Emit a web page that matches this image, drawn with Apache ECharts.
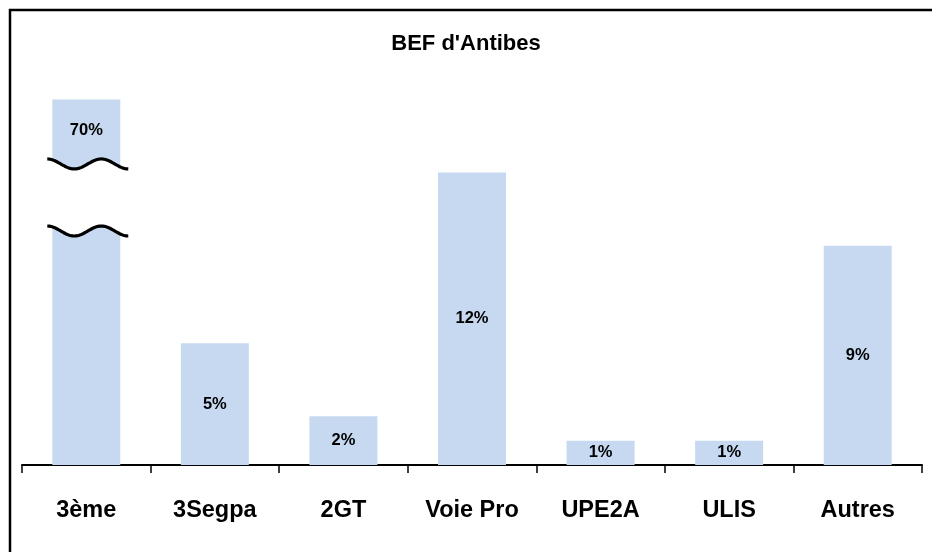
<!DOCTYPE html>
<html>
<head>
<meta charset="utf-8">
<title>BEF d'Antibes</title>
<script src="https://cdn.jsdelivr.net/npm/echarts@6/dist/echarts.min.js"></script>
<style>
  html, body { margin: 0; padding: 0; background: #fff; }
  #chart { width: 932px; height: 552px; }
</style>
</head>
<body>
<div id="chart"></div>
<script>
// catégories et parts (en %)
var categories = ['3ème', '3Segpa', '2GT', 'Voie Pro', 'UPE2A', 'ULIS', 'Autres'];
var percentages = [70, 5, 2, 12, 1, 1, 9];
// hauteur affichée de la barre coupée, et zone coupée (en %)
var axisCap = 15;
var breakRange = [9.6, 12.35];

var myChart = echarts.init(document.getElementById('chart'));

var barData = percentages.map(function (v) {
	var item = { value: Math.min(v, axisCap) };
	if (v > axisCap) {
		item.label = { position: 'insideTop', distance: 23 };
	}
	return item;
});

// trait ondulé de la coupure
function wavePoints(cx, yc) {
	var pts = [];
	for (var x = -39; x <= 42; x += 1) {
		pts.push([cx + x, yc - 5 * Math.cos(2 * Math.PI * (x + 39) / 54)]);
	}
	return pts;
}

var option = {
	animation: false,
	title: {
		text: "BEF d'Antibes",
		left: 'center',
		top: 28,
		textStyle: {
			fontFamily: 'Liberation Sans',
			fontWeight: 'bold',
			fontSize: 22,
			color: '#000'
		}
	},
	grid: {
		left: 22,
		right: 10,
		top: 75,
		bottom: 87
	},
	xAxis: {
		type: 'category',
		data: categories,
		axisLine: { lineStyle: { color: '#000', width: 2 } },
		axisTick: { show: true, length: 8, lineStyle: { color: '#000', width: 1.5 } },
		axisLabel: {
			margin: 34,
			fontFamily: 'Liberation Sans',
			fontWeight: 'bold',
			fontSize: 23.5,
			color: '#000'
		}
	},
	yAxis: {
		type: 'value',
		min: 0,
		max: 16,
		show: false,
		splitLine: { show: false }
	},
	series: [{
		type: 'bar',
		data: barData,
		barWidth: 68,
		itemStyle: { color: '#C6D9F0' },
		label: {
			show: true,
			position: 'inside',
			fontFamily: 'Liberation Sans',
			fontWeight: 'bold',
			fontSize: 16.5,
			color: '#000',
			formatter: function (p) {
				return percentages[p.dataIndex] + '%';
			}
		}
	}, {
		type: 'custom',
		z: 5,
		data: [[0, breakRange[0], breakRange[1]]],
		renderItem: function (params, api) {
			var cx = api.coord([api.value(0), 0])[0];
			var yLow = api.coord([api.value(0), api.value(1)])[1];
			var yHigh = api.coord([api.value(0), api.value(2)])[1];
			var top = wavePoints(cx, yHigh);
			var bottom = wavePoints(cx, yLow);
			var area = top.concat(bottom.slice().reverse());
			return {
				type: 'group',
				children: [{
					type: 'polygon',
					shape: { points: area },
					style: { fill: '#fff' }
				}, {
					type: 'polyline',
					shape: { points: top },
					style: { stroke: '#000', lineWidth: 3.2, fill: null }
				}, {
					type: 'polyline',
					shape: { points: bottom },
					style: { stroke: '#000', lineWidth: 3.2, fill: null }
				}]
			};
		}
	}],
	graphic: [{
		type: 'rect',
		shape: { x: 10, y: 10, width: 940, height: 580 },
		style: { fill: null, stroke: '#000', lineWidth: 2.5 }
	}]
};

myChart.setOption(option);
</script>
</body>
</html>
